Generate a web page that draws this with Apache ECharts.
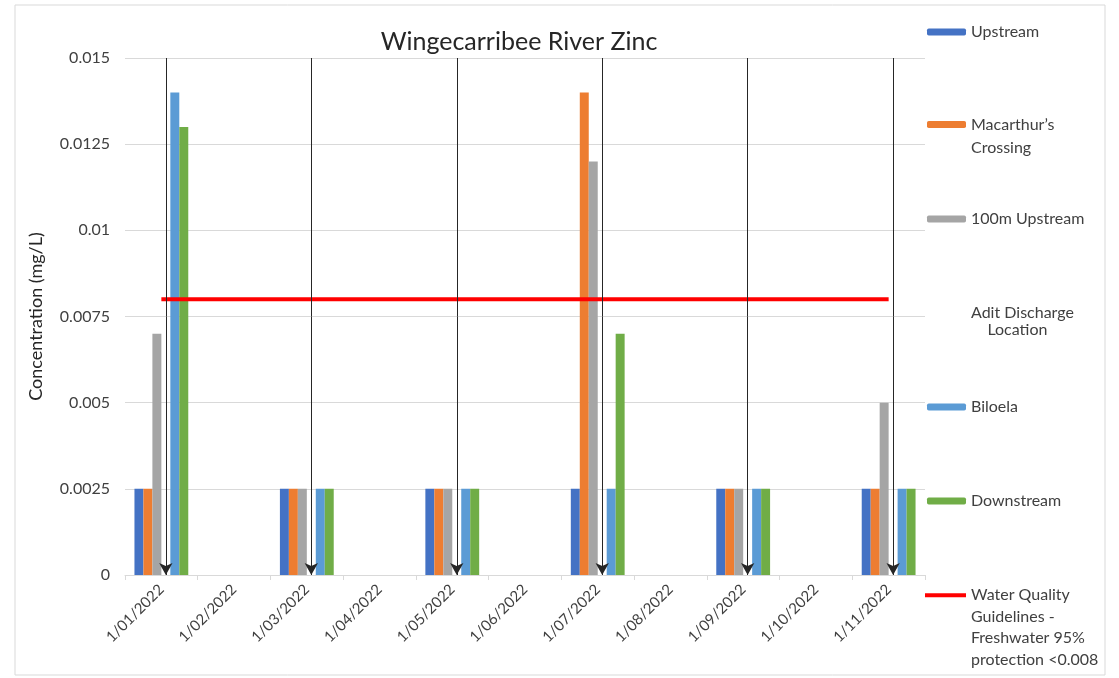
<html>
<head>
<meta charset="utf-8">
<script src="https://cdn.jsdelivr.net/npm/echarts@6/dist/echarts.min.js"></script>
</head>
<body>
<style>
    html, body, #main {
        width: 100%;
        height: 100%;
        margin: 0;
        background: #fff;
    }
</style>
<div id="main"></div>
<script>
var dates = ['1/01/2022', '1/02/2022', '1/03/2022', '1/04/2022', '1/05/2022', '1/06/2022',
             '1/07/2022', '1/08/2022', '1/09/2022', '1/10/2022', '1/11/2022'];
var upstream      = [0.0025, null, 0.0025, null, 0.0025, null, 0.0025, null, 0.0025, null, 0.0025];
var macarthur     = [0.0025, null, 0.0025, null, 0.0025, null, 0.014,  null, 0.0025, null, 0.0025];
var up100m        = [0.007,  null, 0.0025, null, 0.0025, null, 0.012,  null, 0.0025, null, 0.005];
var adit          = [null, null, null, null, null, null, null, null, null, null, null];
var biloela       = [0.014,  null, 0.0025, null, 0.0025, null, 0.0025, null, 0.0025, null, 0.0025];
var downstream    = [0.013,  null, 0.0025, null, 0.0025, null, 0.007,  null, 0.0025, null, 0.0025];
var guideline     = [0.008, 0.008, 0.008, 0.008, 0.008, 0.008, 0.008, 0.008, 0.008, 0.008, 0.008];
var sampleDates   = ['1/01/2022', '1/03/2022', '1/05/2022', '1/07/2022', '1/09/2022', '1/11/2022'];

var font = 'Lato, "Open Sans", sans-serif';
var chart = echarts.init(document.getElementById('main'));

// one legend block per entry so each sits level with its gridline, like Excel
function oneLegend(item, top, extra) {
    var lg = {
        data: [item],
        orient: 'vertical',
        left: 927,
        top: top,
        padding: 0,
        itemWidth: 39,
        itemHeight: 7,
        selectedMode: false,
        textStyle: { fontFamily: font, fontSize: 16, color: '#404040', lineHeight: 20 }
    };
    if (extra) {
        for (var k in extra) {
            if (k === 'textStyle') {
                for (var t in extra.textStyle) lg.textStyle[t] = extra.textStyle[t];
            } else {
                lg[k] = extra[k];
            }
        }
    }
    return lg;
}

function barSeries(name, data, color) {
    return {
        name: name,
        type: 'bar',
        data: data,
        barGap: 0,
        barCategoryGap: '26%',
        itemStyle: { color: color }
    };
}

var wqName = 'Water Quality Guidelines - Freshwater 95% protection <0.008';

var aditSeries = barSeries('Adit Discharge Location', adit, 'rgba(0,0,0,0)');
aditSeries.markLine = {
    silent: true,
    symbol: ['arrow', 'none'],
    symbolSize: [10, 12],
    label: { show: false },
    lineStyle: { color: '#262626', width: 1, type: 'solid' },
    data: sampleDates.map(function (d) { return { xAxis: d }; })
};

var option = {
    backgroundColor: '#fff',
    animation: false,
    title: {
        text: 'Wingecarribee River Zinc',
        left: 514,
        textAlign: 'center',
        top: 24,
        textStyle: { fontFamily: font, fontSize: 25, fontWeight: 'normal', color: '#262626' }
    },
    graphic: [{
        type: 'rect',
        shape: { x: 15, y: 5, width: 1090, height: 670 },
        style: { fill: 'none', stroke: '#d9d9d9', lineWidth: 1 },
        silent: true
    }],
    legend: [
        oneLegend('Upstream', 22),
        oneLegend("Macarthur's Crossing", 90, {
            formatter: ' \nMacarthur\u2019s\nCrossing',
            textStyle: { lineHeight: 23 }
        }),
        oneLegend('100m Upstream', 209),
        oneLegend('Adit Discharge Location', 304, {
            formatter: 'Adit Discharge\n    Location',
            textStyle: { lineHeight: 17 }
        }),
        oneLegend('Biloela', 397),
        oneLegend('Downstream', 491),
        oneLegend({ name: wqName, icon: 'rect' }, 520, {
            formatter: ' \n \n \nWater Quality\nGuidelines -\nFreshwater 95%\nprotection <0.008',
            left: 925,
            itemWidth: 41,
            itemHeight: 4,
            textStyle: { lineHeight: 21.5 }
        })
    ],
    grid: { left: 125, right: 194, top: 58, bottom: 103, containLabel: false },
    xAxis: {
        type: 'category',
        data: dates,
        axisLine: { lineStyle: { color: '#d9d9d9' } },
        axisTick: { show: true, length: 5, lineStyle: { color: '#d9d9d9' } },
        axisLabel: {
            interval: 0,
            rotate: 45,
            margin: 12,
            fontFamily: font,
            fontSize: 15,
            color: '#404040'
        }
    },
    yAxis: {
        type: 'value',
        min: 0,
        max: 0.015,
        interval: 0.0025,
        name: 'Concentration (mg/L)',
        nameLocation: 'middle',
        nameGap: 80,
        nameTextStyle: { fontFamily: font, fontSize: 18, color: '#262626' },
        axisLine: { show: false },
        axisTick: { show: false },
        splitLine: { lineStyle: { color: '#d9d9d9' } },
        axisLabel: {
            margin: 15,
            fontFamily: font,
            fontSize: 16,
            color: '#404040',
            formatter: function (v) { return String(+v.toFixed(4)); }
        }
    },
    series: [
        barSeries('Upstream', upstream, '#4472C4'),
        barSeries("Macarthur's Crossing", macarthur, '#ED7D31'),
        barSeries('100m Upstream', up100m, '#A5A5A5'),
        aditSeries,
        barSeries('Biloela', biloela, '#5B9BD5'),
        barSeries('Downstream', downstream, '#70AD47'),
        {
            name: wqName,
            type: 'line',
            data: guideline,
            showSymbol: false,
            symbol: 'none',
            lineStyle: { color: '#FF0000', width: 4 },
            itemStyle: { color: '#FF0000' },
            z: 3
        }
    ]
};
chart.setOption(option);
</script>
</body>
</html>
